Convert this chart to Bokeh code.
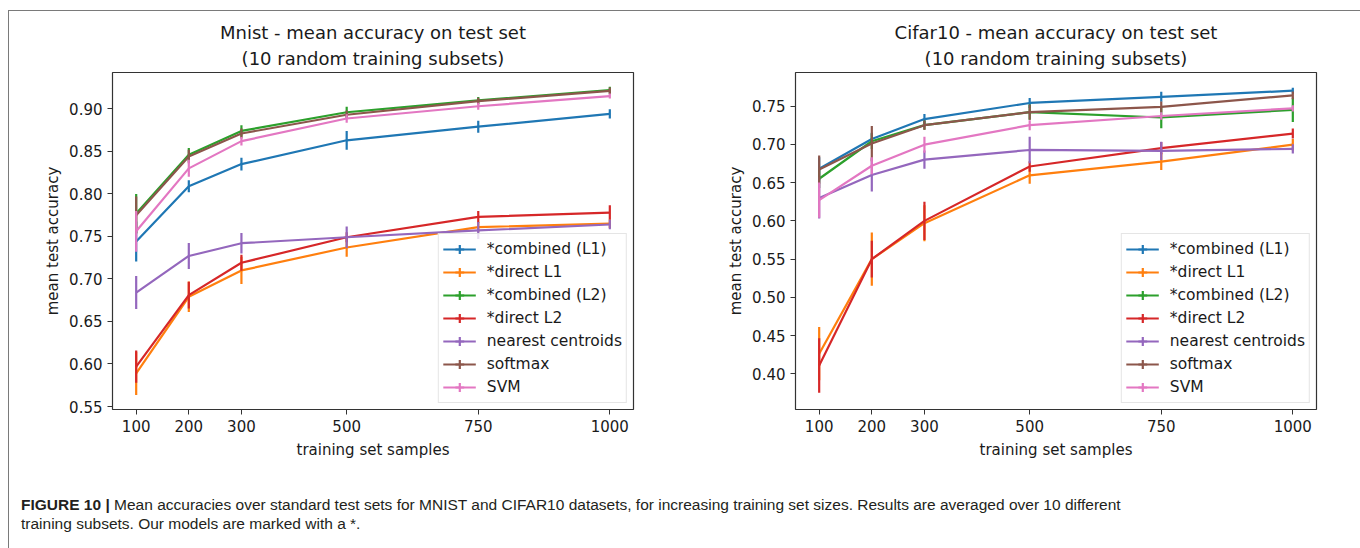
from bokeh.plotting import figure
from bokeh.models import (Range1d, FixedTicker, PrintfTickFormatter, Legend,
                          LegendItem, Title, Div)
from bokeh.layouts import row, column
from bokeh.embed import file_html
from bokeh.resources import INLINE

# ---------------- data ----------------
train_sizes = [100, 200, 300, 500, 750, 1000]
x_tick_labels = ["100", "200", "300", "500", "750", "1000"]

series_labels = ["*combined (L1)", "*direct L1", "*combined (L2)", "*direct L2",
                 "nearest centroids", "softmax", "SVM"]
series_colors = ["#1f77b4", "#ff7f0e", "#2ca02c", "#d62728",
                 "#9467bd", "#8c564b", "#e377c2"]

# MNIST means and std
mnist_comb_l1 = [0.744, 0.809, 0.835, 0.863, 0.879, 0.894]
mnist_comb_l1_err = [0.0235, 0.007, 0.0075, 0.011, 0.007, 0.0055]
mnist_direct_l1 = [0.589, 0.679, 0.710, 0.737, 0.761, 0.765]
mnist_direct_l1_err = [0.0255, 0.018, 0.016, 0.011, 0.006, 0.005]
mnist_comb_l2 = [0.777, 0.846, 0.874, 0.896, 0.910, 0.922]
mnist_comb_l2_err = [0.023, 0.008, 0.0067, 0.0065, 0.004, 0.004]
mnist_direct_l2 = [0.597, 0.681, 0.719, 0.749, 0.773, 0.778]
mnist_direct_l2_err = [0.019, 0.0157, 0.0094, 0.006, 0.007, 0.0085]
mnist_nearest = [0.684, 0.727, 0.742, 0.749, 0.757, 0.764]
mnist_nearest_err = [0.0194, 0.0153, 0.012, 0.0127, 0.010, 0.0055]
mnist_softmax = [0.775, 0.844, 0.871, 0.893, 0.909, 0.921]
mnist_softmax_err = [0.022, 0.008, 0.006, 0.005, 0.004, 0.004]
mnist_svm = [0.756, 0.830, 0.862, 0.8886, 0.903, 0.915]
mnist_svm_err = [0.024, 0.010, 0.005, 0.005, 0.004, 0.003]
mnist_y_ticks = [0.55, 0.60, 0.65, 0.70, 0.75, 0.80, 0.85, 0.90]

# CIFAR10 means and std
cifar_comb_l1 = [0.668, 0.707, 0.733, 0.754, 0.762, 0.770]
cifar_comb_l1_err = [0.015, 0.008, 0.0065, 0.0065, 0.0065, 0.004]
cifar_direct_l1 = [0.4265, 0.550, 0.597, 0.6595, 0.6775, 0.6995]
cifar_direct_l1_err = [0.0348, 0.0348, 0.0235, 0.011, 0.011, 0.0075]
cifar_comb_l2 = [0.655, 0.704, 0.725, 0.742, 0.735, 0.745]
cifar_comb_l2_err = [0.012, 0.010, 0.006, 0.010, 0.014, 0.016]
cifar_direct_l2 = [0.411, 0.550, 0.600, 0.671, 0.695, 0.714]
cifar_direct_l2_err = [0.0356, 0.024, 0.025, 0.007, 0.008, 0.0065]
cifar_nearest = [0.630, 0.660, 0.680, 0.6926, 0.6915, 0.694]
cifar_nearest_err = [0.027, 0.0217, 0.012, 0.0174, 0.012, 0.006]
cifar_softmax = [0.667, 0.701, 0.725, 0.742, 0.749, 0.764]
cifar_softmax_err = [0.0185, 0.023, 0.006, 0.0098, 0.007, 0.005]
cifar_svm = [0.627, 0.672, 0.6995, 0.725, 0.737, 0.747]
cifar_svm_err = [0.023, 0.011, 0.0104, 0.0065, 0.005, 0.004]
cifar_y_ticks = [0.40, 0.45, 0.50, 0.55, 0.60, 0.65, 0.70, 0.75]

mnist_means = [mnist_comb_l1, mnist_direct_l1, mnist_comb_l2, mnist_direct_l2,
               mnist_nearest, mnist_softmax, mnist_svm]
mnist_errs = [mnist_comb_l1_err, mnist_direct_l1_err, mnist_comb_l2_err,
              mnist_direct_l2_err, mnist_nearest_err, mnist_softmax_err, mnist_svm_err]
cifar_means = [cifar_comb_l1, cifar_direct_l1, cifar_comb_l2, cifar_direct_l2,
               cifar_nearest, cifar_softmax, cifar_svm]
cifar_errs = [cifar_comb_l1_err, cifar_direct_l1_err, cifar_comb_l2_err,
              cifar_direct_l2_err, cifar_nearest_err, cifar_softmax_err, cifar_svm_err]

FONT = "DejaVu Sans"
TXT = "#1a1a1a"


def make_plot(title1, title2, means, errs, y_lo, y_hi, y_ticks, b_left, b_right):
    p = figure(frame_width=521, frame_height=337,
               min_border_left=b_left, min_border_right=b_right,
               min_border_top=61, min_border_bottom=52,
               x_range=Range1d(55, 1045), y_range=Range1d(y_lo, y_hi),
               toolbar_location=None, output_backend="svg")
    # first line (farther from the frame)
    p.title.text = title1
    p.title.align = "center"
    p.title.text_font = FONT
    p.title.text_font_size = "18px"
    p.title.text_font_style = "normal"
    p.title.text_color = TXT
    p.title.standoff = 0
    # second line (closer to the frame)
    t2 = Title(text=title2, align="center", text_font=FONT, text_font_size="18px",
               text_font_style="normal", text_color=TXT, standoff=7)
    p.add_layout(t2, "above")

    p.grid.visible = False
    p.outline_line_color = "#333333"
    p.outline_line_width = 1.2
    p.outline_line_alpha = 1.0
    p.axis.axis_line_color = None
    p.axis.minor_tick_line_color = None
    p.axis.major_tick_out = 5
    p.axis.major_tick_in = 0
    p.axis.major_tick_line_color = "#333333"
    p.axis.major_label_text_font = FONT
    p.axis.major_label_text_font_size = "15px"
    p.axis.major_label_text_color = TXT
    p.axis.axis_label_text_font = FONT
    p.axis.axis_label_text_font_size = "15px"
    p.axis.axis_label_text_font_style = "normal"
    p.axis.axis_label_text_color = TXT

    p.xaxis.ticker = FixedTicker(ticks=train_sizes)
    p.xaxis.major_label_overrides = {t: l for t, l in zip(train_sizes, x_tick_labels)}
    p.xaxis.axis_label = "training set samples"
    p.xaxis.major_label_standoff = 5
    p.xaxis.axis_label_standoff = 6
    p.yaxis.ticker = FixedTicker(ticks=y_ticks)
    p.yaxis.formatter = PrintfTickFormatter(format="%.2f")
    p.yaxis.axis_label = "mean test accuracy"
    p.yaxis.major_label_standoff = 5
    p.yaxis.axis_label_standoff = 4

    items = []
    for lab, col, m, e in zip(series_labels, series_colors, means, errs):
        r_line = p.line(train_sizes, m, line_color=col, line_width=2.2,
                        line_join="round")
        lo = [a - b for a, b in zip(m, e)]
        hi = [a + b for a, b in zip(m, e)]
        p.segment(x0=train_sizes, y0=lo, x1=train_sizes, y1=hi,
                  line_color=col, line_width=2.2)
        # legend-only proxy for the error-bar tick (no visible data point)
        r_tick = p.scatter(x=[train_sizes[0]], y=[float("nan")], marker="cross",
                           size=13, line_color=col, line_width=2.2)
        items.append(LegendItem(label=lab, renderers=[r_line, r_tick]))

    legend = Legend(items=items, location="bottom_right",
                    label_text_font=FONT, label_text_font_size="15.5px",
                    label_text_color=TXT,
                    glyph_width=33, glyph_height=22, label_height=22,
                    spacing=1, padding=4, label_standoff=11, margin=6,
                    border_line_color="#cccccc", border_line_width=1,
                    background_fill_alpha=0.8)
    p.add_layout(legend)
    return p


p1 = make_plot("Mnist - mean accuracy on test set", "(10 random training subsets)",
               mnist_means, mnist_errs, 0.5465, 0.9427, mnist_y_ticks, 103, 48)
p2 = make_plot("Cifar10 - mean accuracy on test set", "(10 random training subsets)",
               cifar_means, cifar_errs, 0.3536, 0.7938, cifar_y_ticks, 114, 37)

caption = Div(
    text=('<div style="font-family: \'Liberation Sans\', Arial, sans-serif; '
          'font-size: 15.5px; line-height: 18.5px; color: #231f20; '
          'padding: 30px 0 0 7px; white-space: nowrap;">'
          '<b>FIGURE 10 |</b> Mean accuracies over standard test sets for MNIST and '
          'CIFAR10 datasets, for increasing training set sizes. Results are averaged '
          'over 10 different<br>training subsets. Our models are marked with a *.</div>'),
    width=1344, height=85)

layout = column(row(p1, p2), caption, margin=(10, 0, 0, 8),
                styles={"border": "1px solid #7a7a7a", "border-bottom": "none"})

open("out.html", "w").write(file_html(layout, INLINE))
